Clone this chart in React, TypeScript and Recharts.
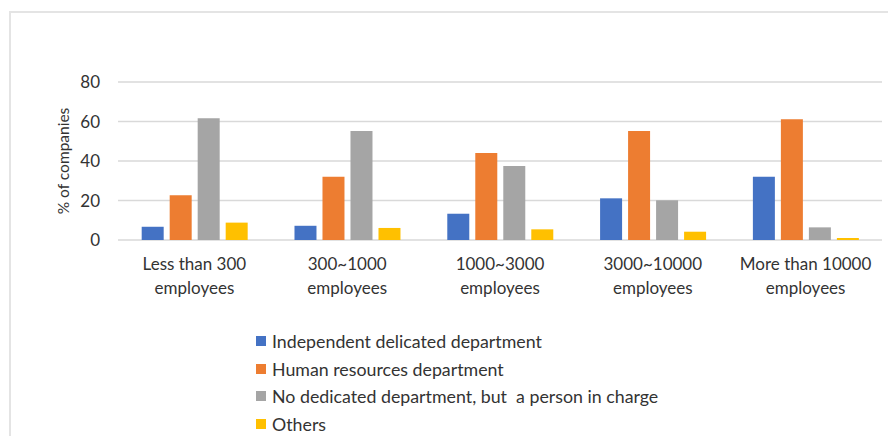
import { BarChart, Bar, XAxis, YAxis, CartesianGrid } from 'recharts';

const categories = [
  'Less than 300\nemployees',
  '300~1000\nemployees',
  '1000~3000\nemployees',
  '3000~10000\nemployees',
  'More than 10000\nemployees',
];

const independentDept = [6.7, 7.2, 13.3, 21.1, 32];
const hrDept = [22.6, 32, 44, 55.2, 61.1];
const personInCharge = [61.6, 55.2, 37.5, 20.1, 6.4];
const others = [8.8, 6.1, 5.4, 4.2, 1.0];

const yTicks = [0, 20, 40, 60, 80];

const series = [
  { key: 'independent', name: 'Independent delicated department', color: '#4472C4', values: independentDept },
  { key: 'hr', name: 'Human resources department', color: '#ED7D31', values: hrDept },
  { key: 'person', name: 'No dedicated department, but  a person in charge', color: '#A5A5A5', values: personInCharge },
  { key: 'others', name: 'Others', color: '#FFC000', values: others },
];

const data = categories.map((category, i) => {
  const row: Record<string, string | number> = { category };
  series.forEach((s) => {
    row[s.key] = s.values[i];
  });
  return row;
});

const FONT = 'Lato, "Open Sans", sans-serif';
const TEXT = '#333333';

function CategoryTick({ x, y, payload }: any) {
  const lines = String(payload.value).split('\n');
  return (
    <text x={x} y={y} textAnchor="middle" fill={TEXT} fontSize={17} fontFamily={FONT}>
      {lines.map((line, i) => (
        <tspan key={i} x={x} dy={i === 0 ? 22 : 24}>
          {line}
        </tspan>
      ))}
    </text>
  );
}

function AxisTitle({ viewBox }: any) {
  const cx = 63;
  const cy = viewBox.y + viewBox.height / 2;
  return (
    <text
      x={cx}
      y={cy}
      transform={`rotate(-90, ${cx}, ${cy})`}
      textAnchor="middle"
      dominantBaseline="central"
      fill={TEXT}
      fontSize={15.5}
      fontFamily={FONT}
    >
      % of companies
    </text>
  );
}

export default function App() {
  return (
    <div style={{ position: 'relative', width: 896, height: 444, margin: -8, overflow: 'hidden', background: '#fff' }}>
      <div
        style={{
          position: 'absolute',
          left: 9,
          top: 11,
          width: 1000,
          height: 1000,
          borderTop: '2px solid #e4e4e4',
          borderLeft: '2px solid #e4e4e4',
        }}
      />
      <div style={{ position: 'absolute', left: 0, top: 0 }}>
        <BarChart
          width={896}
          height={444}
          data={data}
          margin={{ top: 82, right: 14, left: 58, bottom: 144 }}
          barCategoryGap="15.5%"
          barGap={6}
        >
          <CartesianGrid vertical={false} stroke="#d9d9d9" strokeWidth={1.5} />
          <XAxis
            dataKey="category"
            axisLine={false}
            tickLine={false}
            height={60}
            interval={0}
            tick={<CategoryTick />}
          />
          <YAxis
            width={60}
            domain={[0, 80]}
            ticks={yTicks}
            axisLine={false}
            tickLine={false}
            tickSize={0}
            tickMargin={18}
            tick={{ fill: TEXT, fontSize: 17, fontFamily: FONT }}
            label={<AxisTitle />}
          />
          {series.map((s) => (
            <Bar key={s.key} dataKey={s.key} name={s.name} fill={s.color} isAnimationActive={false} />
          ))}
        </BarChart>
      </div>
      <div style={{ position: 'absolute', left: 256, top: 327, fontFamily: FONT, fontSize: 17.8, color: TEXT }}>
        {series.map((s) => (
          <div key={s.key} style={{ display: 'flex', alignItems: 'center', height: 27.7, whiteSpace: 'pre' }}>
            <span style={{ display: 'inline-block', width: 10, height: 10, background: s.color, marginRight: 6 }} />
            <span>{s.name}</span>
          </div>
        ))}
      </div>
    </div>
  );
}
